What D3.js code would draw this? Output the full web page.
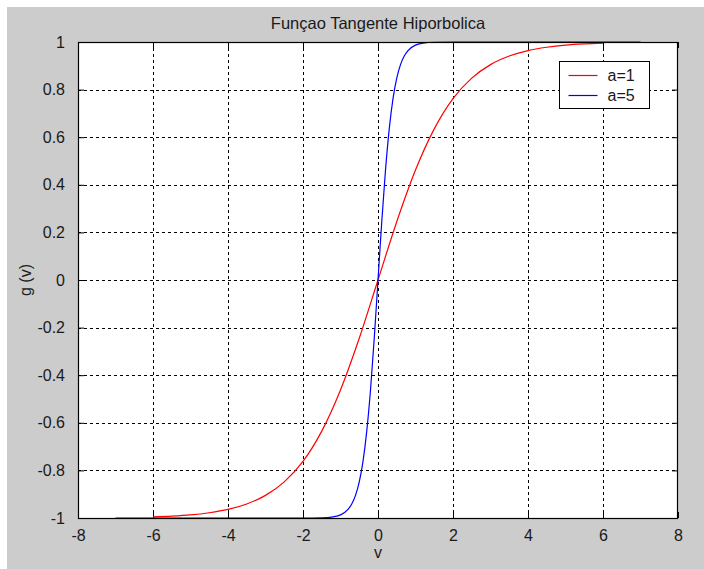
<!DOCTYPE html>
<html>
<head>
<meta charset="utf-8">
<script src="https://cdn.jsdelivr.net/npm/d3@7"></script>
<style>
  body { margin: 0; background: #fff; }
  text { font-family: "Liberation Sans", Arial, sans-serif; fill: #1a1a1a; }
</style>
</head>
<body>
<div id="chart"></div>
<script>
// values
const redX = [-6, -5.5, -5, -4.5, -4, -3.5, -3, -2.5, -2, -1.5, -1, -0.5, 0,
  0.5, 1, 1.5, 2, 2.5, 3, 3.5, 4, 4.5, 5, 5.5, 6];
const redY = [-0.995, -0.992, -0.987, -0.978, -0.964, -0.941, -0.905, -0.848, -0.762, -0.635, -0.462, -0.245, 0,
  0.245, 0.462, 0.635, 0.762, 0.848, 0.905, 0.941, 0.964, 0.978, 0.987, 0.992, 0.995];

const blueX = [-7, -2, -1.5, -1.2, -1, -0.8, -0.7, -0.6, -0.5, -0.4, -0.3, -0.2, -0.1, 0,
  0.1, 0.2, 0.3, 0.4, 0.5, 0.6, 0.7, 0.8, 1, 1.2, 1.5, 2, 7];
const blueY = [-1, -1, -0.999, -0.995, -0.987, -0.964, -0.941, -0.905, -0.848, -0.762, -0.635, -0.462, -0.245, 0,
  0.245, 0.462, 0.635, 0.762, 0.848, 0.905, 0.941, 0.964, 0.987, 0.995, 0.999, 1, 1];

const xTicks = [-8, -6, -4, -2, 0, 2, 4, 6, 8];
const yTicks = [-1, -0.8, -0.6, -0.4, -0.2, 0, 0.2, 0.4, 0.6, 0.8, 1];
const seriesNames = ['a=1', 'a=5'];
const seriesColors = ['#ff0000', '#0000ff'];

const config = {
  width: 704, height: 569,
  margin: { top: 42, right: 26, bottom: 51, left: 78 }
};
const w = config.width - config.margin.left - config.margin.right;
const h = config.height - config.margin.top - config.margin.bottom;
const fontSize = 16;

const svg = d3.select('#chart').append('svg')
  .attr('width', config.width)
  .attr('height', config.height);

// grey figure background
svg.append('rect')
  .attr('x', 7).attr('y', 7)
  .attr('width', config.width - 7).attr('height', config.height - 7)
  .attr('fill', '#cccccc');

const g = svg.append('g')
  .attr('transform', `translate(${config.margin.left},${config.margin.top})`);

const x = d3.scaleLinear().domain([-8, 8]).range([0, w]);
const y = d3.scaleLinear().domain([-1, 1]).range([h, 0]);

g.append('rect').attr('width', w).attr('height', h).attr('fill', '#fff');

// dashed grid
g.selectAll('.grid-x')
  .data(xTicks.slice(1, -1))
  .enter().append('line')
  .attr('class', 'grid-x')
  .attr('x1', d => Math.round(x(d)) + 0.5).attr('x2', d => Math.round(x(d)) + 0.5)
  .attr('y1', 0).attr('y2', h)
  .attr('stroke', '#000').attr('stroke-dasharray', '3,3');

g.selectAll('.grid-y')
  .data(yTicks.slice(1, -1))
  .enter().append('line')
  .attr('class', 'grid-y')
  .attr('x1', 0).attr('x2', w)
  .attr('y1', d => Math.round(y(d)) + 0.5).attr('y2', d => Math.round(y(d)) + 0.5)
  .attr('stroke', '#000').attr('stroke-dasharray', '3,3');

// axes with inward ticks (matlab style)
const fmt = d => String(d);
const xAxis = g.append('g').attr('transform', `translate(0,${h})`)
  .call(d3.axisBottom(x).tickValues(xTicks).tickFormat(fmt).tickSizeInner(-6).tickSizeOuter(0).tickPadding(12));
const xAxisTop = g.append('g')
  .call(d3.axisTop(x).tickValues(xTicks).tickSizeInner(-6).tickSizeOuter(0).tickFormat(''));
const yAxis = g.append('g')
  .call(d3.axisLeft(y).tickValues(yTicks).tickFormat(fmt).tickSizeInner(-6).tickSizeOuter(0).tickPadding(13));
const yAxisRight = g.append('g').attr('transform', `translate(${w},0)`)
  .call(d3.axisRight(y).tickValues(yTicks).tickSizeInner(-6).tickSizeOuter(0).tickFormat(''));

[xAxis, xAxisTop, yAxis, yAxisRight].forEach(a => {
  a.select('.domain').remove();
  a.selectAll('line').attr('stroke', '#000');
  a.selectAll('text').attr('font-size', fontSize).attr('font-family', '"Liberation Sans", Arial, sans-serif').attr('fill', '#1a1a1a');
});

// curves
const line = d3.line()
  .x(d => x(d[0]))
  .y(d => y(d[1]))
  .curve(d3.curveMonotoneX);

g.append('path')
  .datum(redX.map((v, i) => [v, redY[i]]))
  .attr('fill', 'none').attr('stroke', seriesColors[0]).attr('stroke-width', 1.2)
  .attr('d', line);

g.append('path')
  .datum(blueX.map((v, i) => [v, blueY[i]]))
  .attr('fill', 'none').attr('stroke', seriesColors[1]).attr('stroke-width', 1.2)
  .attr('d', line);

// box
g.append('rect').attr('x', 0.5).attr('y', 0.5).attr('width', w - 1).attr('height', h)
  .attr('fill', 'none').attr('stroke', '#000').attr('stroke-width', 1.2);

// title and labels
svg.append('text')
  .attr('x', config.margin.left + w / 2).attr('y', 29)
  .attr('text-anchor', 'middle').attr('font-size', 16.5)
  .text('Funçao Tangente Hiporbolica');

svg.append('text')
  .attr('x', config.margin.left + w / 2).attr('y', 558)
  .attr('text-anchor', 'middle').attr('font-size', fontSize)
  .text('v');

svg.append('text')
  .attr('transform', `translate(31,${config.margin.top + h / 2}) rotate(-90)`)
  .attr('text-anchor', 'middle').attr('font-size', fontSize)
  .text('g (v)');

// legend
const legend = svg.append('g').attr('transform', 'translate(559.5,61.5)');
legend.append('rect').attr('width', 90).attr('height', 47)
  .attr('fill', '#fff').attr('stroke', '#000');
seriesNames.forEach((name, i) => {
  const ly = 14 + i * 20;
  legend.append('line').attr('x1', 9).attr('x2', 38).attr('y1', ly).attr('y2', ly)
    .attr('stroke', seriesColors[i]).attr('stroke-width', 1.2);
  legend.append('text').attr('x', 48).attr('y', ly + 5).attr('font-size', fontSize).text(name);
});
</script>
</body>
</html>
